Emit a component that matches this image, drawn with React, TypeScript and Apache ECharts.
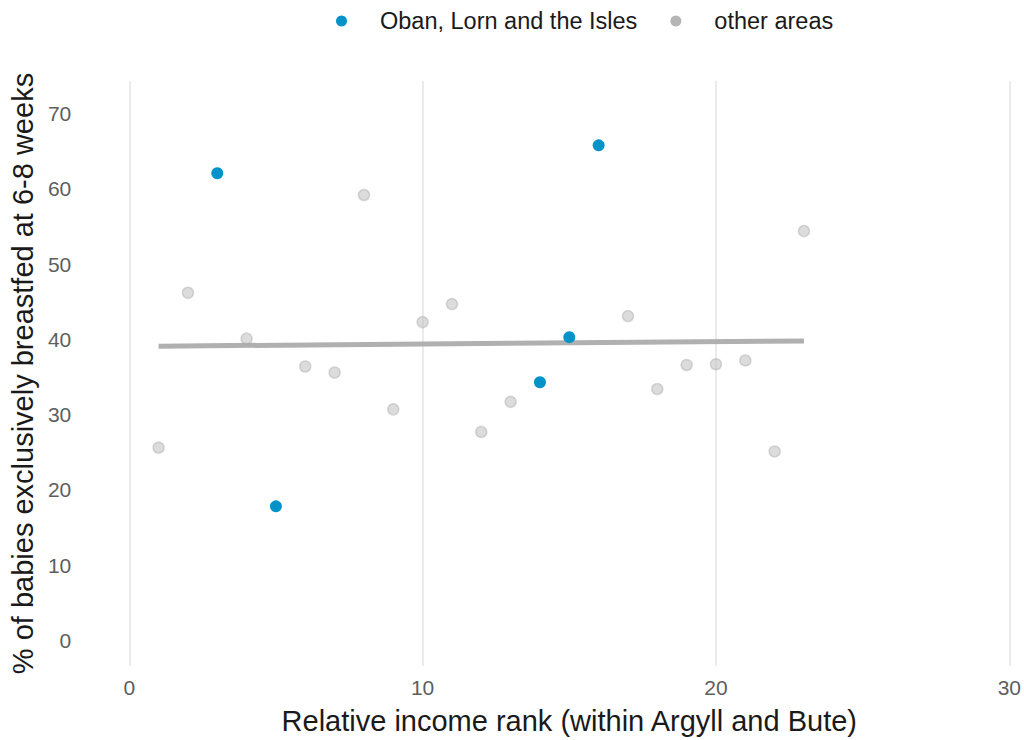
import React, { useEffect, useRef } from "react";
import * as echarts from "echarts";

const otherRank = [1, 2, 4, 6, 7, 8, 9, 10, 11, 12, 13, 17, 18, 19, 20, 21, 22, 23];
const otherPct = [25.6, 46.2, 40.1, 36.4, 35.6, 59.2, 30.7, 42.3, 44.7, 27.7, 31.7, 43.1, 33.4, 36.6, 36.7, 37.2, 25.1, 54.4];
const obanRank = [3, 5, 14, 15, 16];
const obanPct = [62.1, 17.8, 34.3, 40.3, 65.8];
const trendRank = [1, 23];
const trendPct = [39.1, 39.8];
const yTicks = [0, 10, 20, 30, 40, 50, 60, 70];
const seriesNames = ["Oban, Lorn and the Isles", "other areas"];

const FONT = "'Liberation Sans', Arial, sans-serif";
const BLUE = "#0393c9";
const GREY = "#b5b5b5";

export default function App() {
  const ref = useRef<HTMLDivElement>(null);
  useEffect(() => {
    if (!ref.current) return;
    const chart = echarts.init(ref.current, null, { renderer: "svg" });
    const otherData = otherRank.map((x, i) => [x, otherPct[i]]);
    const obanData = obanRank.map((x, i) => [x, obanPct[i]]);
    const trendData = trendRank.map((x, i) => [x, trendPct[i]]);
    chart.setOption({
      animation: false,
      backgroundColor: "#ffffff",
      textStyle: { fontFamily: FONT },
      legend: {
        top: 4,
        left: 331,
        itemWidth: 11,
        itemHeight: 11,
        itemGap: 33,
        icon: "circle",
        textStyle: { fontSize: 23.5, color: "#1a1a1a", fontFamily: FONT, padding: [0, 0, 0, 28] },
        data: [
          { name: seriesNames[0], itemStyle: { color: BLUE, opacity: 1, borderWidth: 0 } },
          { name: seriesNames[1], itemStyle: { color: GREY, opacity: 1, borderWidth: 0 } },
        ],
      },
      grid: { left: 125, right: 13, top: 81, bottom: 70 },
      xAxis: {
        type: "value",
        min: 0,
        max: 30,
        interval: 10,
        name: "Relative income rank (within Argyll and Bute)",
        nameLocation: "middle",
        nameGap: 40,
        nameTextStyle: { fontSize: 29, color: "#1a1a1a", fontFamily: FONT },
        axisLine: { show: false },
        axisTick: { show: false },
        axisLabel: { fontSize: 21, color: "#5e5e5e", margin: 11, fontFamily: FONT },
        splitLine: { show: true, lineStyle: { color: "#e6e6e6", width: 1.6 } },
      },
      yAxis: {
        type: "value",
        min: -3.43,
        max: 74.36,
        name: "% of babies exclusively breastfed at 6-8 weeks",
        nameLocation: "middle",
        nameRotate: 90,
        nameGap: 82,
        nameTextStyle: { fontSize: 29, color: "#1a1a1a", fontFamily: FONT },
        axisLine: { show: false },
        axisTick: { show: false },
        splitLine: { show: false },
        axisLabel: {
          customValues: yTicks,
          fontSize: 21,
          color: "#5e5e5e",
          margin: 58,
          fontFamily: FONT,
        },
      },
      series: [
        {
          type: "line",
          data: trendData,
          showSymbol: false,
          symbol: "none",
          lineStyle: { color: "#b0b0b0", width: 5 },
          z: 1,
          silent: true,
        },
        {
          name: seriesNames[1],
          type: "scatter",
          data: otherData,
          symbolSize: 11,
          itemStyle: {
            color: "rgba(185,185,185,0.5)",
            borderColor: "rgba(165,165,165,0.4)",
            borderWidth: 1.5,
            opacity: 1,
          },
          z: 2,
        },
        {
          name: seriesNames[0],
          type: "scatter",
          data: obanData,
          symbolSize: 12,
          itemStyle: { color: BLUE, opacity: 1 },
          z: 3,
        },
      ],
    });
    return () => chart.dispose();
  }, []);
  return (
    <div
      ref={ref}
      style={{ position: "fixed", left: 0, top: 0, width: 1024, height: 740, background: "#fff" }}
    />
  );
}
